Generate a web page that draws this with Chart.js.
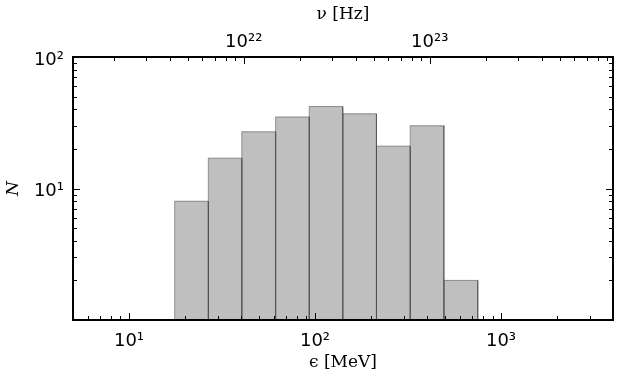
<!DOCTYPE html>
<html>
<head>
<meta charset="utf-8">
<script src="https://cdn.jsdelivr.net/npm/chart.js@4.4.1/dist/chart.umd.min.js"></script>
<style>
  html, body { margin: 0; padding: 0; background: #fff; }
  canvas { display: block; }
</style>
</head>
<body>
<canvas id="chart" width="619" height="382"></canvas>
<script>
// histogram bins (MeV) and counts
const binEdges = [17.6, 26.7, 40.4, 61.4, 93.1, 141, 214, 325, 493, 750]
const counts = [8, 17, 27, 35, 42, 37, 21, 30, 2]

// axis ranges
const energyRange = [5, 4000]      // MeV
const countRange = [1, 100]
const hzPerMeV = 2.417989e20

// labelled ticks
const energyLabels = { 10: "10¹", 100: "10²", 1000: "10³" }
const countLabels = { 10: "10¹", 100: "10²" }
const freqLabels = { 1e22: "10²²", 1e23: "10²³" }

/**
 * Log ticks (1..9 x 10^n) inside a range
 */
function logTicks(min, max) {
    const out = []
    for (let e = Math.floor(Math.log10(min)); e <= Math.ceil(Math.log10(max)); e++) {
        for (let m = 1; m < 10; m++) {
            const v = m * Math.pow(10, e)
            if (v >= min * 0.999 && v <= max * 1.001) out.push({ value: v })
        }
    }
    return out
}

function isDecade(v) {
    const l = Math.log10(v)
    return Math.abs(l - Math.round(l)) < 1e-6
}

// fixed box sizes so the plot area sits where the reference has it
function fixBox(size) {
    return (s) => {
        if (s.isHorizontal()) s.height = size
        else s.width = size
        s.paddingLeft = 0
        s.paddingRight = 0
        s.paddingTop = 0
        s.paddingBottom = 0
    }
}

const datasets = counts.map((n, i) => ({
    data: [
        { x: binEdges[i], y: countRange[0] },
        { x: binEdges[i], y: n },
        { x: binEdges[i + 1], y: n },
        { x: binEdges[i + 1], y: countRange[0] },
    ],
    borderColor: "rgba(70, 70, 70, 0.55)",
    borderWidth: 1,
    backgroundColor: "#bfbfbf",
    fill: "start",
    pointRadius: 0,
    tension: 0,
}))

/**
 * Inward ticks and a heavy frame, matplotlib style
 */
const frame = {
    id: "frame",
    afterDatasetsDraw(chart) {
        const { ctx, chartArea: a, scales } = chart
        ctx.save()
        ctx.strokeStyle = "#000"
        ctx.lineWidth = 1
        const line = (x1, y1, x2, y2) => {
            ctx.beginPath()
            ctx.moveTo(x1, y1)
            ctx.lineTo(x2, y2)
            ctx.stroke()
        }
        scales.x.ticks.forEach((t) => {
            const px = Math.round(scales.x.getPixelForValue(t.value)) + 0.5
            line(px, a.bottom, px, a.bottom - (isDecade(t.value) ? 7 : 4))
        })
        scales.x2.ticks.forEach((t) => {
            const px = Math.round(scales.x2.getPixelForValue(t.value)) + 0.5
            line(px, a.top, px, a.top + (isDecade(t.value) ? 7 : 4))
        })
        scales.y.ticks.forEach((t) => {
            const py = Math.round(scales.y.getPixelForValue(t.value)) + 0.5
            const len = isDecade(t.value) ? 7 : 4
            line(a.left, py, a.left + len, py)
            line(a.right, py, a.right - len, py)
        })
        ctx.lineWidth = 2
        ctx.strokeRect(a.left, a.top, a.right - a.left, a.bottom - a.top)
        ctx.restore()
    },
}

const tickFont = { family: "DejaVu Sans", size: 18 }
const titleFont = { family: "DejaVu Serif", size: 17 }

new Chart(document.getElementById("chart"), {
    type: "line",
    data: { datasets },
    plugins: [frame],
    options: {
        responsive: false,
        animation: false,
        devicePixelRatio: 1,
        layout: { padding: { right: 6, left: 0, top: 0, bottom: 0 } },
        plugins: { legend: { display: false }, tooltip: { enabled: false } },
        scales: {
            x: {
                type: "logarithmic",
                position: "bottom",
                min: energyRange[0],
                max: energyRange[1],
                grid: { display: false, drawTicks: false },
                border: { display: false },
                afterBuildTicks: (s) => { s.ticks = logTicks(energyRange[0], energyRange[1]) },
                afterFit: fixBox(62),
                ticks: {
                    autoSkip: false, maxRotation: 0, padding: 11,
                    color: "#000", font: tickFont,
                    callback: (v) => energyLabels[Math.round(v)] || "",
                },
                title: {
                    display: true, text: "ϵ [MeV]", color: "#000",
                    font: titleFont, padding: { top: 0, bottom: 9 },
                },
            },
            x2: {
                type: "logarithmic",
                axis: "x",
                position: "top",
                min: energyRange[0] * hzPerMeV,
                max: energyRange[1] * hzPerMeV,
                grid: { display: false, drawTicks: false },
                border: { display: false },
                afterBuildTicks: (s) => { s.ticks = logTicks(s.min, s.max) },
                afterFit: fixBox(57),
                ticks: {
                    autoSkip: false, maxRotation: 0, padding: 4,
                    color: "#000", font: tickFont,
                    callback: (v) => {
                        const k = Object.keys(freqLabels).find((f) => Math.abs(v / f - 1) < 1e-6)
                        return k ? freqLabels[k] : ""
                    },
                },
                title: {
                    display: true, text: "ν [Hz]", color: "#000",
                    font: titleFont, padding: { top: 4, bottom: 0 },
                },
            },
            y: {
                type: "logarithmic",
                min: countRange[0],
                max: countRange[1],
                grid: { display: false, drawTicks: false },
                border: { display: false },
                afterBuildTicks: (s) => { s.ticks = logTicks(countRange[0], countRange[1]) },
                afterFit: fixBox(73),
                ticks: {
                    autoSkip: false, padding: 9, labelOffset: 3,
                    color: "#000", font: tickFont,
                    callback: (v) => countLabels[Math.round(v)] || "",
                },
                title: {
                    display: true, text: "N", color: "#000",
                    font: { family: "DejaVu Serif", size: 17, style: "italic" },
                    padding: { top: 3, bottom: 0 },
                },
            },
        },
    },
})
</script>
</body>
</html>
